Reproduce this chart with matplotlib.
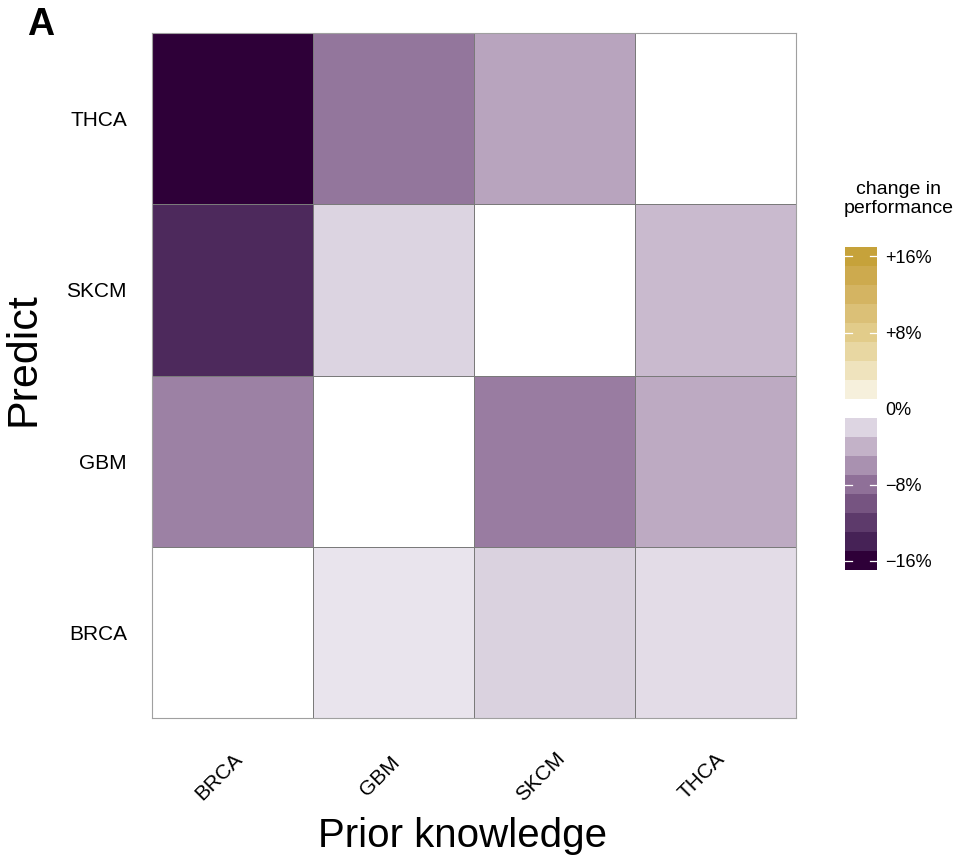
import numpy as np
import matplotlib.pyplot as plt
from matplotlib.colors import LinearSegmentedColormap, ListedColormap, BoundaryNorm, Normalize

plt.rcParams['font.family'] = ['Liberation Sans', 'DejaVu Sans']

# cancer types (columns = prior knowledge, rows = predicted cancer)
prior = ['BRCA', 'GBM', 'SKCM', 'THCA']
predict = ['BRCA', 'GBM', 'SKCM', 'THCA']

# change in performance (%) per predicted row, prior-knowledge column
brca_row = [np.nan, -1.3, -2.2, -1.7]
gbm_row = [-7.0, np.nan, -7.2, -4.5]
skcm_row = [-13.3, -2.1, np.nan, -3.5]
thca_row = [-16.5, -7.7, -4.8, np.nan]

cbar_ticks = [-16, -8, 0, 8, 16]
cbar_labels = ['\u221216%', '\u22128%', '0%', '+8%', '+16%']

# step colours of the scale, from -16 up to +16 (step 2)
step_colors = ['#2e0038', '#462256', '#5d3a6b', '#765481', '#8f7098', '#a991b0',
               '#c3b2c8', '#ddd5e2', '#ffffff', '#f6f0dc', '#efe3bd', '#e8d7a2',
               '#e2cc8a', '#dbc077', '#d4b462', '#cdaa4e', '#c6a23a']
step_centres = np.arange(-16, 17, 2)

vals = np.array([brca_row, gbm_row, skcm_row, thca_row])

lo, hi = -17, 17
anchors = [(0.0, step_colors[0])]
anchors += [((c - lo) / (hi - lo), col) for c, col in zip(step_centres, step_colors)]
anchors += [(1.0, step_colors[-1])]
cmap = LinearSegmentedColormap.from_list('perf', anchors)
cmap.set_bad('white')
norm = Normalize(lo, hi)

fig = plt.figure(figsize=(9.57, 8.58), dpi=100)
ax = fig.add_axes([152 / 957, 1 - 718 / 858, 644 / 957, 685 / 858])

ax.pcolormesh(np.ma.masked_invalid(vals), cmap=cmap, norm=norm,
              edgecolor='#7a7a7a', linewidth=0.6)
ax.set_xlim(0, 4)
ax.set_ylim(0, 4)
for s in ax.spines.values():
    s.set_color('#a0a0a0')
    s.set_linewidth(0.8)

ax.set_xticks([])
ax.set_yticks(np.arange(4) + 0.5)
ax.set_yticklabels(predict, fontsize=15)
ax.tick_params(axis='y', length=0, pad=18)

# rotated column labels
for i, name in enumerate(prior):
    ax.text(i + 0.5 - 0.085, -0.34, name, rotation=45, ha='center', va='center',
            fontsize=15)

ax.set_ylabel('Predict', fontsize=31)
ax.yaxis.set_label_coords(-0.168, 0.524)
ax.text(1.93, -0.69, 'Prior knowledge', ha='center', va='center', fontsize=29)

fig.text(27 / 957, 1 - 25 / 858, 'A', fontsize=27, fontweight='bold', va='center')

# stepped colour guide
cax = fig.add_axes([845 / 957, 1 - 570 / 858, 32 / 957, 323 / 858])
bounds = np.arange(-17, 18, 2)
cb = fig.colorbar(plt.cm.ScalarMappable(norm=BoundaryNorm(bounds, len(step_colors)),
                                        cmap=ListedColormap(step_colors)),
                  cax=cax, ticks=cbar_ticks)
cb.outline.set_visible(False)
cb.set_ticklabels(cbar_labels)
cax.minorticks_off()
cax.tick_params(which='both', length=0, labelsize=13, pad=6)
for t in cbar_ticks:
    if t != 0:
        cax.plot([0.0, 0.22], [t, t], color='white', lw=0.9, transform=cax.get_yaxis_transform())
        cax.plot([0.78, 1.0], [t, t], color='white', lw=0.9, transform=cax.get_yaxis_transform())
fig.text(899 / 957, 1 - 199 / 858, 'change in\nperformance', ha='center', va='center',
         fontsize=14, linespacing=1.15)

fig.savefig('out.png', dpi=100)
